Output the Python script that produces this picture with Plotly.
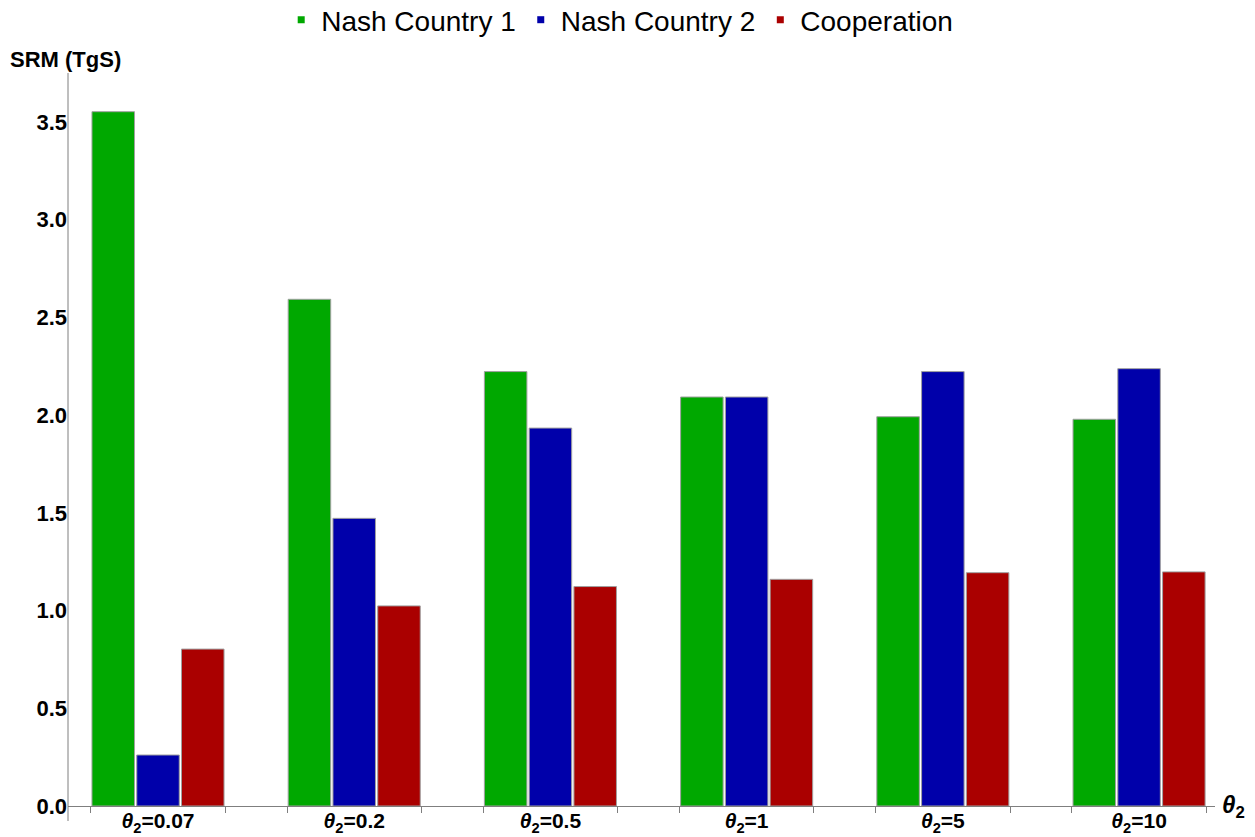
import plotly.graph_objects as go

# θ2 settings shown as groups along the x axis
theta_labels = ["0.07", "0.2", "0.5", "1", "5", "10"]
group_pos = [1, 2, 3, 4, 5, 6]

# SRM deployment (TgS) for each scenario
nash_country_1 = [3.553, 2.593, 2.223, 2.093, 1.992, 1.979]
nash_country_2 = [0.261, 1.472, 1.934, 2.093, 2.223, 2.238]
cooperation = [0.803, 1.024, 1.123, 1.160, 1.194, 1.198]

series_names = ["Nash Country 1", "Nash Country 2", "Cooperation"]
series_colors = ["#00A800", "#0000AA", "#AA0000"]
series_values = [nash_country_1, nash_country_2, cooperation]

FONT = "Liberation Sans, Arial, sans-serif"
AXIS_GREY = "#7f7f7f"

W, H = 1255, 837
M_L, M_R, M_T, M_B = 68, 40, 73, 31
plot_h = H - M_T - M_B
plot_w = W - M_L - M_R

GROUP_FRAC = 0.6845  # share of each slot covered by a group of three bars
half_group = GROUP_FRAC / 2

fig = go.Figure()

for name, color, vals in zip(series_names, series_colors, series_values):
    fig.add_trace(go.Bar(
        x=group_pos, y=vals, name=name,
        marker=dict(color=color, line=dict(color="#a0a0a0", width=1)),
        showlegend=False,
    ))
    # small square legend swatches
    fig.add_trace(go.Scatter(
        x=[None], y=[None], mode="markers", name=name,
        marker=dict(symbol="square", size=7, color=color),
    ))

tick_text = ["<b><i>θ</i><sub>2</sub>=%s</b>" % t for t in theta_labels]
edges = []
for p in group_pos:
    edges += [p - half_group, p + half_group]

fig.update_layout(
    width=W, height=H,
    margin=dict(l=M_L, r=M_R, t=M_T, b=M_B, autoexpand=False),
    paper_bgcolor="white", plot_bgcolor="white",
    barmode="group",
    bargap=1 - GROUP_FRAC,
    bargroupgap=0.05,
    font=dict(family=FONT, color="black"),
    showlegend=True,
    legend=dict(
        orientation="h", x=0.481, xanchor="center", y=1 + (M_T - 20) / plot_h,
        yanchor="middle",
        font=dict(size=28, family=FONT, color="black"),
        itemwidth=30, bgcolor="rgba(0,0,0,0)",
    ),
    xaxis=dict(
        range=[0.5413, 6.387], automargin=False,
        tickmode="array", tickvals=group_pos, ticktext=tick_text,
        ticks="", showgrid=False, zeroline=False,
        showline=True, linecolor=AXIS_GREY, linewidth=1,
        tickfont=dict(size=21, family=FONT, color="black"),
        ticklabelstandoff=-4,
        minor=dict(tickmode="array", tickvals=edges, ticks="outside",
                   ticklen=6, tickcolor=AXIS_GREY, showgrid=False),
    ),
    yaxis=dict(
        range=[0, 3.751], automargin=False,
        tickmode="array", tickvals=[0, 0.5, 1, 1.5, 2, 2.5, 3, 3.5],
        ticktext=["<b>%.1f</b>" % v for v in [0, 0.5, 1, 1.5, 2, 2.5, 3, 3.5]],
        ticks="", showgrid=False, zeroline=False, showline=False,
        tickfont=dict(size=22, family=FONT, color="black"),
    ),
)

# vertical axis line, running slightly past the horizontal axis
fig.add_shape(type="line", xref="paper", yref="paper",
              x0=0, x1=0, y0=-15 / plot_h, y1=1,
              line=dict(color=AXIS_GREY, width=1))

fig.add_annotation(text="<b>SRM (TgS)</b>", xref="paper", yref="paper",
                   x=-60 / plot_w, y=1 + (M_T - 60) / plot_h,
                   xanchor="left", yanchor="middle", showarrow=False,
                   font=dict(size=22, family=FONT, color="black"))

fig.add_annotation(text="<b><i>θ</i><sub>2</sub></b>", xref="paper", yref="paper",
                   x=1 + 5 / plot_w, y=0,
                   xanchor="left", yanchor="middle", showarrow=False,
                   font=dict(size=24, family=FONT, color="black"))

fig.write_html("out.html")
